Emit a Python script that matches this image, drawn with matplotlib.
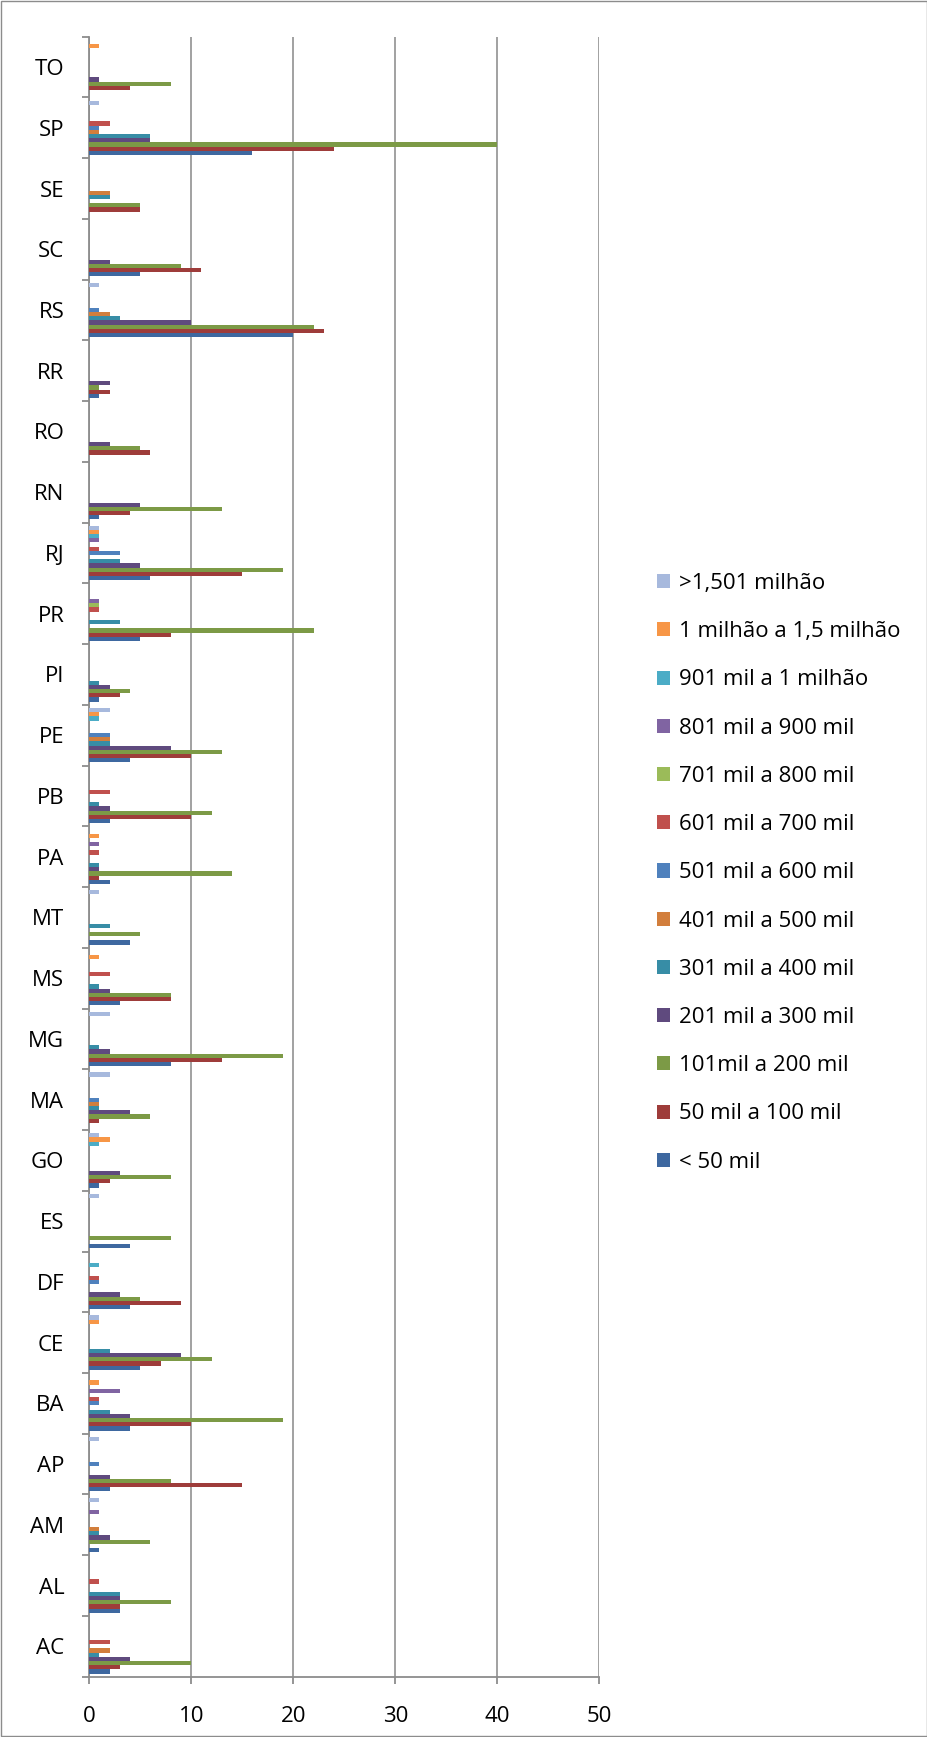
import matplotlib.pyplot as plt
import matplotlib.patches as mpatches
import numpy as np

plt.rcParams['font.family'] = ['Open Sans', 'DejaVu Sans']

estados = ['AC', 'AL', 'AM', 'AP', 'BA', 'CE', 'DF', 'ES', 'GO', 'MA', 'MG', 'MS', 'MT', 'PA',
           'PB', 'PE', 'PI', 'PR', 'RJ', 'RN', 'RO', 'RR', 'RS', 'SC', 'SE', 'SP', 'TO']

faixas = ['< 50 mil', '50 mil a 100 mil', '101mil a 200 mil', '201 mil a 300 mil',
          '301 mil a 400 mil', '401 mil a 500 mil', '501 mil a 600 mil', '601 mil a 700 mil',
          '701 mil a 800 mil', '801 mil a 900 mil', '901 mil a 1 milhão',
          '1 milhão a 1,5 milhão', '>1,501 milhão']

ate50 = [2, 3, 1, 2, 4, 5, 4, 4, 1, 0, 8, 3, 4, 2, 2, 4, 1, 5, 6, 1, 0, 1, 20, 5, 0, 16, 0]
de50 = [3, 3, 0, 15, 10, 7, 9, 0, 2, 1, 13, 8, 0, 1, 10, 10, 3, 8, 15, 4, 6, 2, 23, 11, 5, 24, 4]
de101 = [10, 8, 6, 8, 19, 12, 5, 8, 8, 6, 19, 8, 5, 14, 12, 13, 4, 22, 19, 13, 5, 1, 22, 9, 5, 40, 8]
de201 = [4, 3, 2, 2, 4, 9, 3, 0, 3, 4, 2, 2, 0, 1, 2, 8, 2, 0, 5, 5, 2, 2, 10, 2, 0, 6, 1]
de301 = [1, 3, 1, 0, 2, 2, 0, 0, 0, 1, 1, 1, 2, 1, 1, 2, 1, 3, 3, 0, 0, 0, 3, 0, 2, 6, 0]
de401 = [2, 0, 1, 0, 0, 0, 0, 0, 0, 1, 0, 0, 0, 0, 0, 2, 0, 0, 0, 0, 0, 0, 2, 0, 2, 1, 0]
de501 = [0, 0, 0, 1, 1, 0, 1, 0, 0, 1, 0, 0, 0, 0, 0, 2, 0, 0, 3, 0, 0, 0, 1, 0, 0, 1, 0]
de601 = [2, 1, 0, 0, 1, 0, 1, 0, 0, 0, 0, 2, 0, 1, 2, 0, 0, 1, 1, 0, 0, 0, 0, 0, 0, 2, 0]
de701 = [0, 0, 0, 0, 0, 0, 0, 0, 0, 0, 0, 0, 0, 0, 0, 0, 0, 1, 0, 0, 0, 0, 0, 0, 0, 0, 0]
de801 = [0, 0, 1, 0, 3, 0, 0, 0, 0, 0, 0, 0, 0, 1, 0, 0, 0, 1, 1, 0, 0, 0, 0, 0, 0, 0, 0]
de901 = [0, 0, 0, 0, 0, 0, 1, 0, 1, 0, 0, 0, 0, 0, 0, 1, 0, 0, 1, 0, 0, 0, 0, 0, 0, 0, 0]
de1m = [0, 0, 0, 0, 1, 1, 0, 0, 2, 0, 0, 1, 0, 1, 0, 1, 0, 0, 1, 0, 0, 0, 0, 0, 0, 0, 1]
acima1501 = [0, 0, 1, 1, 0, 1, 0, 1, 1, 2, 2, 0, 1, 0, 0, 2, 0, 0, 1, 0, 0, 0, 1, 0, 0, 1, 0]

series = [ate50, de50, de101, de201, de301, de401, de501, de601, de701, de801, de901, de1m, acima1501]
cores = ['#3E68A0', '#9E3C3A', '#7C9A46', '#5F4A7E', '#378DA6', '#D27E3C', '#4F81BD',
         '#C0504D', '#9BBB59', '#8064A2', '#4BACC6', '#F79646', '#A7B9DD']

fig = plt.figure(figsize=(9.28, 17.37), dpi=100)
ax = fig.add_axes([0.0962, 0.0347, 0.5496, 0.9442])

y = np.arange(len(estados))
h = 1 / 14.5
for i, vals in enumerate(series):
    ax.barh(y + (i - 6) * h, vals, height=h, color=cores[i], label=faixas[i], zorder=3)

ax.set_xlim(0, 50)
ax.set_ylim(-0.5, len(estados) - 0.5)
ax.set_xticks([0, 10, 20, 30, 40, 50])
ax.tick_params(axis='x', labelsize=16, length=5, width=1.3, color='#8C8C8C', pad=16)
ax.set_yticks(np.arange(-0.5, len(estados), 1))
ax.set_yticklabels([])
ax.set_yticks(y, minor=True)
ax.set_yticklabels(estados, minor=True)
ax.tick_params(axis='y', which='major', length=5, width=1.3, color='#8C8C8C')
ax.tick_params(axis='y', which='minor', length=0, labelsize=16, pad=18)
ax.xaxis.grid(True, color='#9A9A9A', linewidth=1.3, zorder=0)
for s in ['top', 'right']:
    ax.spines[s].set_visible(False)
for s in ['left', 'bottom']:
    ax.spines[s].set_color('#8C8C8C')
    ax.spines[s].set_linewidth(1.3)

handles, labels = ax.get_legend_handles_labels()
fig.legend(handles[::-1], labels[::-1], loc='center left', bbox_to_anchor=(0.708, 0.4975),
           frameon=False, fontsize=16, handlelength=0.6, handleheight=0.6,
           handletextpad=0.38, labelspacing=1.225, borderpad=0, borderaxespad=0)

fig.patches.append(mpatches.Rectangle((0.001, 0.0006), 0.998, 0.9988, transform=fig.transFigure,
                                      fill=False, edgecolor='#8C8C8C', linewidth=1))

plt.savefig('out.png', dpi=100)
